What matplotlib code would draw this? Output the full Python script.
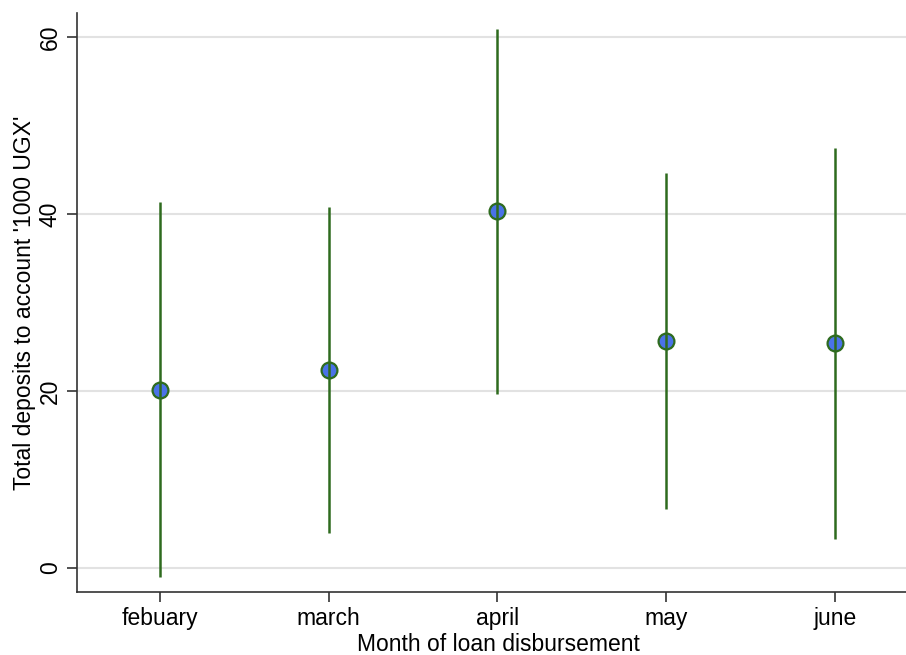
import numpy as np
import matplotlib.pyplot as plt

plt.rcParams['font.family'] = ['Liberation Sans', 'DejaVu Sans']

months = ['febuary', 'march', 'april', 'may', 'june']
means = [20.1, 22.4, 40.3, 25.6, 25.4]
lower = [-1.0, 4.0, 19.7, 6.7, 3.3]
upper = [41.3, 40.8, 60.9, 44.6, 47.5]

fig = plt.figure(figsize=(9.06, 6.55), dpi=100)
ax = fig.add_axes([0.085, 0.0962, 0.915, 0.884])

x = np.arange(len(months))
green = '#2e6b1e'
ax.scatter(x, means, s=130, color='#4a72e8', edgecolor=green, linewidth=1.6, zorder=3)
ax.vlines(x, lower, upper, color=green, linewidth=1.8, zorder=4)

ax.set_xlim(-0.49, 4.42)
ax.set_ylim(-2.7, 62.7)
ax.set_xticks(x)
ax.set_xticklabels(months)
ax.set_yticks([0, 20, 40, 60])
ax.set_yticklabels(['0', '20', '40', '60'], rotation=90, va='center')
ax.grid(axis='y', color='#e2e2e2', linewidth=1.5)
ax.set_axisbelow(True)

for s in ['top', 'right']:
    ax.spines[s].set_visible(False)
for s in ['left', 'bottom']:
    ax.spines[s].set_color('#333333')
    ax.spines[s].set_linewidth(1.2)
ax.tick_params(length=7, width=1.2, color='#333333', labelsize=16.5, pad=4)

ax.set_xlabel('Month of loan disbursement', fontsize=16.5)
ax.xaxis.set_label_coords(0.508, -0.07, transform=ax.transAxes)
ax.xaxis.label.set_va('top')
ax.set_ylabel("Total deposits to account '1000 UGX'", fontsize=16.5, labelpad=2)

fig.savefig('out.png', dpi=100)
